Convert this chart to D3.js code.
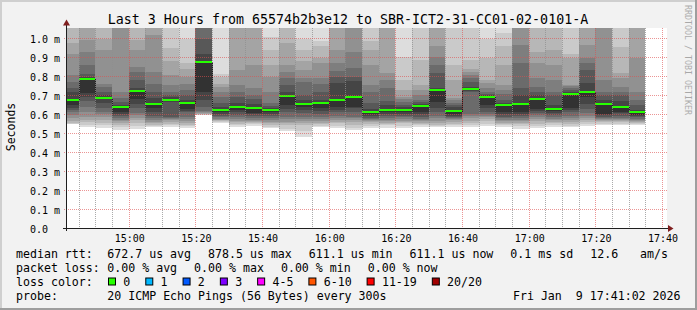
<!DOCTYPE html>
<html>
<head>
<meta charset="utf-8">
<script src="https://cdn.jsdelivr.net/npm/d3@7"></script>
<style>
  body { margin: 0; background: #fff; }
  text { font-family: "DejaVu Sans Mono", monospace; fill: #000; white-space: pre; }
</style>
</head>
<body>
<div id="chart"></div>
<script>
var width = 697;
var height = 310;

var titleText = "Last 3 Hours from 65574b2b3e12 to SBR-ICT2-31-CC01-02-0101-A";
var graphStart = new Date(2026, 0, 9, 14, 41, 2);
var graphEnd = new Date(2026, 0, 9, 17, 41, 2);
var firstStep = new Date(2026, 0, 9, 14, 40, 0);
var stepMinutes = 5;

// median rtt per 5 min step (ms)
var medianRtt = [0.676, 0.789, 0.688, 0.637, 0.724, 0.657, 0.676, 0.662, 0.8785, 0.625,
  0.641, 0.636, 0.625, 0.699, 0.657, 0.662, 0.678, 0.694, 0.614, 0.625,
  0.625, 0.646, 0.729, 0.618, 0.736, 0.694, 0.650, 0.657, 0.683, 0.629,
  0.710, 0.718, 0.657, 0.641, 0.6111];

// 20 sorted pings per step (us)
var pingsUs = [
  [549, 552, 555, 565, 580, 597, 611, 625, 635, 650, 676, 720, 740, 770, 810, 920, 975, 1080, 1150, 1250],
  [535, 544, 558, 570, 588, 614, 641, 671, 694, 711, 789, 800, 812, 860, 930, 993, 1080, 1120, 1200, 1300],
  [526, 544, 555, 570, 588, 600, 611, 632, 658, 685, 688, 702, 720, 746, 760, 940, 1000, 1080, 1150, 1300],
  [518, 532, 545, 555, 565, 572, 580, 590, 600, 611, 637, 650, 667, 685, 720, 1070, 1100, 1150, 1200, 1300],
  [525, 540, 555, 570, 580, 595, 610, 632, 655, 680, 724, 738, 782, 826, 852, 940, 993, 1080, 1150, 1250],
  [535, 540, 546, 553, 562, 570, 580, 590, 615, 632, 657, 685, 720, 760, 826, 1020, 1080, 1120, 1200, 1300],
  [535, 545, 552, 560, 568, 575, 580, 588, 668, 672, 676, 690, 700, 720, 756, 810, 880, 950, 1100, 1200],
  [530, 540, 546, 555, 565, 575, 588, 611, 620, 630, 662, 676, 700, 730, 760, 800, 840, 870, 1000, 1100],
  [597, 598, 600, 603, 606, 612, 620, 640, 676, 720, 879, 920, 1000, 1070, 1100, 1120, 1150, 1200, 1300, 1400],
  [555, 560, 565, 568, 572, 578, 585, 592, 600, 612, 625, 640, 660, 690, 720, 745, 760, 800, 815, 1100],
  [535, 545, 550, 558, 565, 575, 585, 598, 615, 625, 641, 660, 690, 720, 756, 835, 1080, 1120, 1200, 1300],
  [540, 548, 555, 560, 565, 570, 580, 590, 600, 607, 636, 655, 680, 700, 740, 860, 1080, 1120, 1200, 1300],
  [528, 535, 545, 555, 560, 570, 580, 590, 600, 611, 625, 632, 645, 660, 720, 800, 860, 940, 1010, 1100],
  [510, 525, 544, 553, 561, 575, 588, 611, 628, 650, 699, 720, 755, 790, 826, 860, 975, 1080, 1150, 1250],
  [480, 510, 545, 555, 565, 575, 585, 606, 624, 641, 657, 676, 700, 770, 790, 835, 880, 940, 1000, 1100],
  [535, 540, 548, 555, 565, 575, 585, 600, 620, 636, 662, 676, 720, 760, 790, 870, 900, 960, 990, 1100],
  [526, 540, 553, 560, 570, 580, 594, 611, 624, 641, 678, 764, 800, 830, 870, 940, 1080, 1120, 1200, 1300],
  [518, 530, 544, 560, 570, 580, 588, 611, 632, 640, 694, 775, 800, 843, 930, 1070, 1100, 1150, 1200, 1300],
  [530, 540, 550, 558, 565, 570, 575, 580, 590, 600, 614, 630, 658, 720, 755, 860, 940, 990, 1080, 1200],
  [530, 545, 550, 557, 565, 572, 580, 590, 600, 611, 625, 650, 670, 740, 780, 817, 1070, 1100, 1150, 1250],
  [530, 540, 553, 560, 567, 575, 585, 593, 600, 611, 625, 640, 650, 665, 680, 694, 730, 782, 905, 1100],
  [535, 544, 550, 557, 563, 570, 578, 588, 600, 611, 646, 655, 665, 676, 700, 730, 755, 887, 1080, 1200],
  [535, 540, 545, 555, 565, 580, 590, 615, 635, 667, 729, 740, 817, 860, 905, 960, 1080, 1120, 1200, 1300],
  [535, 545, 552, 560, 568, 575, 580, 585, 590, 600, 618, 640, 650, 660, 675, 685, 782, 860, 1080, 1200],
  [535, 545, 555, 565, 580, 590, 600, 720, 725, 730, 736, 745, 770, 790, 810, 825, 840, 890, 1080, 1200],
  [540, 550, 565, 575, 585, 590, 600, 611, 632, 650, 694, 700, 710, 720, 740, 765, 780, 896, 1000, 1100],
  [535, 545, 550, 556, 565, 570, 580, 588, 600, 615, 650, 660, 675, 710, 730, 755, 860, 960, 1030, 1100],
  [525, 540, 550, 557, 565, 572, 580, 590, 600, 611, 657, 700, 740, 870, 965, 1070, 1100, 1150, 1200, 1300],
  [530, 540, 550, 565, 575, 585, 595, 610, 620, 630, 683, 700, 720, 745, 790, 870, 930, 1080, 1150, 1250],
  [535, 545, 555, 562, 570, 575, 588, 598, 610, 620, 629, 650, 700, 720, 780, 860, 940, 1080, 1150, 1250],
  [535, 540, 550, 560, 570, 580, 590, 611, 623, 632, 710, 720, 730, 740, 750, 755, 896, 920, 1080, 1200],
  [540, 550, 560, 570, 580, 590, 605, 630, 655, 690, 718, 764, 835, 870, 896, 967, 1070, 1120, 1200, 1300],
  [545, 550, 560, 565, 570, 575, 580, 588, 595, 600, 657, 675, 700, 720, 780, 1070, 1100, 1150, 1200, 1300],
  [545, 550, 558, 565, 570, 575, 580, 590, 605, 611, 641, 670, 700, 720, 746, 790, 820, 958, 1080, 1200],
  [545, 550, 555, 560, 565, 570, 575, 585, 590, 598, 611, 625, 650, 676, 720, 896, 1070, 1100, 1150, 1250]
];

var yTickValues = [0, 0.1, 0.2, 0.3, 0.4, 0.5, 0.6, 0.7, 0.8, 0.9, 1.0];
var yTickLabels = ["0.0  ", "0.1 m", "0.2 m", "0.3 m", "0.4 m", "0.5 m", "0.6 m", "0.7 m", "0.8 m", "0.9 m", "1.0 m"];
var xTickLabels = ["15:00", "15:20", "15:40", "16:00", "16:20", "16:40", "17:00", "17:20", "17:40"];

var rttStats = ["672.7 us avg", "878.5 us max", "611.1 us min", "611.1 us now", "0.1 ms sd"];
var amsStat = ["12.6", "am/s"];
var lossStats = ["0.00 % avg", "0.00 % max", "0.00 % min", "0.00 % now"];
var lossLabels = ["0", "1", "2", "3", "4-5", "6-10", "11-19", "20/20"];
var lossColors = ["#26ff00", "#00b8ff", "#0059ff", "#7e00ff", "#ff00ff", "#ff5500", "#ff0000", "#a10000"];
var probeText = "20 ICMP Echo Pings (56 Bytes) every 300s";
var dateText = "Fri Jan  9 17:41:02 2026";


var svg = d3.select("#chart")
  .append("svg")
  .attr("width", width)
  .attr("height", height);

/* background and 3d frame */
svg.append("rect").attr("width", width).attr("height", height).attr("fill", "#f2f2f2");
svg.append("rect").attr("x", 0).attr("y", 0).attr("width", width).attr("height", 2).attr("fill", "#cfcfcf");
svg.append("rect").attr("x", 0).attr("y", 0).attr("width", 2).attr("height", height).attr("fill", "#cfcfcf");
svg.append("rect").attr("x", 0).attr("y", height - 2).attr("width", width).attr("height", 2).attr("fill", "#9e9e9e");
svg.append("rect").attr("x", width - 2).attr("y", 0).attr("width", 2).attr("height", height).attr("fill", "#9e9e9e");

var x = d3.scaleTime().domain([graphStart, graphEnd]).range([66, 666]);
var y = d3.scaleLinear().domain([0, 1.0565]).range([228, 28]);
// rrdtool snaps to the pixel on the left / above
function px(t) { return Math.floor(x(t)); }
function py(v) { return Math.floor(y(v)); }

svg.append("rect")
  .attr("x", 66).attr("y", 28)
  .attr("width", 601).attr("height", 200)
  .attr("fill", "#ffffff");

svg.append("clipPath").attr("id", "plotClip")
  .append("rect").attr("x", 66).attr("y", 28).attr("width", 601).attr("height", 200);

var plot = svg.append("g").attr("clip-path", "url(#plotClip)");

/* build steps */
var steps = medianRtt.map(function (m, i) {
  var t0 = d3.timeMinute.offset(firstStep, i * stepMinutes);
  var t1 = d3.timeMinute.offset(firstStep, (i + 1) * stepMinutes);
  return {
    t0: t0,
    t1: t1,
    x0: Math.max(66, px(t0)),
    x1: px(t1),
    median: m,
    pings: pingsUs[i].map(function (p) { return p / 1000; })
  };
});

/* smoke: band ii spans ping ii .. ping (21-ii), inner bands darker */
var half = 10;
d3.range(1, half + 1).forEach(function (ii) {
  var c = Math.floor(190 / half * (half - ii)) + 50;
  var col = d3.rgb(c, c, c).formatHex();
  plot.append("g")
    .selectAll("rect")
    .data(steps)
    .enter()
    .append("rect")
    .attr("x", function (d) { return d.x0; })
    .attr("width", function (d) { return d.x1 - d.x0; })
    .attr("y", function (d) { return Math.round(y(d.pings[20 - ii])); })
    .attr("height", function (d) { return Math.round(y(d.pings[ii - 1])) - Math.round(y(d.pings[20 - ii])); })
    .attr("fill", col)
    .attr("shape-rendering", "crispEdges");
});

/* median step line */
var stepPoints = steps.map(function (d) { return { px: d.x0, v: d.median }; });
stepPoints.push({ px: steps[steps.length - 1].x1, v: steps[steps.length - 1].median });

plot.append("path")
  .datum(stepPoints)
  .attr("d", d3.line()
    .x(function (d) { return d.px + 0.5; })
    .y(function (d) { return Math.round(y(d.v)) + 0.5; })
    .curve(d3.curveStepAfter))
  .attr("fill", "none")
  .attr("stroke", "#202020")
  .attr("stroke-width", 1)
  .attr("shape-rendering", "crispEdges");

plot.append("g")
  .selectAll("line")
  .data(steps)
  .enter()
  .append("line")
  .attr("x1", function (d) { return d.x0; })
  .attr("x2", function (d) { return d.x1; })
  .attr("y1", function (d) { return Math.round(y(d.median)); })
  .attr("y2", function (d) { return Math.round(y(d.median)); })
  .attr("stroke", lossColors[0])
  .attr("stroke-width", 2);

/* grid on top, dotted */
var gridTimes = d3.timeMinute.every(5).range(graphStart, graphEnd);

function vDots(gx) {
  var d = "";
  for (var yy = 28; yy < 228; yy += 2) d += "M" + gx + "," + yy + "h1v1h-1z";
  return d;
}
function hDots(gy) {
  var d = "";
  for (var xx = 64; xx < 668; xx += 2) d += "M" + xx + "," + gy + "h1v1h-1z";
  return d;
}

var gridG = svg.append("g").attr("shape-rendering", "crispEdges");

gridG.selectAll("path.minor")
  .data(gridTimes.filter(function (t) { return t.getMinutes() % 20 !== 0; }))
  .enter()
  .append("path")
  .attr("class", "minor")
  .attr("d", function (t) { return vDots(px(t)); })
  .attr("fill", "rgba(143,143,143,0.75)");

gridG.selectAll("path.major")
  .data(gridTimes.filter(function (t) { return t.getMinutes() % 20 === 0; }))
  .enter()
  .append("path")
  .attr("class", "major")
  .attr("d", function (t) { return vDots(px(t)); })
  .attr("fill", "rgba(222,79,79,0.6)");

gridG.selectAll("path.hgrid")
  .data(yTickValues.filter(function (v) { return v > 0; }))
  .enter()
  .append("path")
  .attr("class", "hgrid")
  .attr("d", function (v) { return hDots(py(v)); })
  .attr("fill", "rgba(222,79,79,0.6)");

/* axes */
svg.append("line").attr("x1", 63).attr("x2", 668).attr("y1", 228.5).attr("y2", 228.5)
  .attr("stroke", "#1f1f1f");
svg.append("path").attr("d", "M668,225L673.5,228.5L668,232Z").attr("fill", "#801f1f");
svg.append("line").attr("x1", 66.5).attr("x2", 66.5).attr("y1", 231).attr("y2", 25)
  .attr("stroke", "#1f1f1f");
svg.append("path").attr("d", "M63,25.5L66.5,19.5L70,25.5Z").attr("fill", "#801f1f");

var parseHM = d3.timeParse("%Y-%m-%d %H:%M");
var xTickDates = xTickLabels.map(function (s) { return parseHM("2026-01-09 " + s); });

var xAxis = svg.append("g")
  .attr("transform", "translate(0,228)")
  .call(d3.axisBottom(x)
    .tickValues(xTickDates)
    .tickFormat(function (d, i) { return xTickLabels[i]; })
    .tickSize(0)
    .tickPadding(6.4));
xAxis.select(".domain").remove();
xAxis.selectAll(".tick line").remove();
xAxis.selectAll("text")
  .style("font-family", "'DejaVu Sans Mono', monospace")
  .style("font-size", "10px")
  .attr("fill", "#000");

var yAxis = svg.append("g")
  .attr("transform", "translate(66,0)")
  .call(d3.axisLeft(y)
    .tickValues(yTickValues)
    .tickFormat(function (d, i) { return yTickLabels[i]; })
    .tickSize(0)
    .tickPadding(6));
yAxis.select(".domain").remove();
yAxis.selectAll(".tick line").remove();
yAxis.selectAll("text")
  .attr("dy", "0.4em")
  .style("font-family", "'DejaVu Sans Mono', monospace")
  .style("font-size", "10px")
  .style("white-space", "pre")
  .attr("fill", "#000");

/* titles */
svg.append("text")
  .attr("x", 348)
  .attr("y", 23.5)
  .attr("text-anchor", "middle")
  .style("font-size", "13.3px")
  .text(titleText);

svg.append("text")
  .attr("transform", "translate(15,127) rotate(-90)")
  .attr("text-anchor", "middle")
  .style("font-size", "11.5px")
  .text("Seconds");

svg.append("text")
  .attr("transform", "translate(684.5,5) rotate(90)")
  .style("font-size", "8.3px")
  .style("fill", "#000")
  .style("opacity", 0.3)
  .text("RRDTOOL / TOBI OETIKER");

/* legend */
var legendFont = "11.6px";
var gap = 17;

function legendRow(label, items, yBase) {
  svg.append("text").attr("x", 16).attr("y", yBase).style("font-size", legendFont).text(label);
  var xPos = 107.3;
  items.forEach(function (s) {
    var t = svg.append("text").attr("x", xPos).attr("y", yBase).style("font-size", legendFont).text(s);
    xPos += t.node().getComputedTextLength() + gap;
  });
  return xPos;
}

var afterRtt = legendRow("median rtt:", rttStats, 257.5);
var ams = svg.append("text").attr("x", afterRtt).attr("y", 257.5).style("font-size", legendFont).text(amsStat[0]);
svg.append("text")
  .attr("x", afterRtt + ams.node().getComputedTextLength() + 22)
  .attr("y", 257.5).style("font-size", legendFont).text(amsStat[1]);

legendRow("packet loss:", lossStats, 271.5);

svg.append("text").attr("x", 16).attr("y", 285.5).style("font-size", legendFont).text("loss color:");
var boxX = 108.5;
lossLabels.forEach(function (lbl, i) {
  svg.append("rect")
    .attr("x", boxX).attr("y", 278)
    .attr("width", 7).attr("height", 7)
    .attr("fill", lossColors[i])
    .attr("stroke", "#000")
    .attr("stroke-width", 1);
  var t = svg.append("text").attr("x", boxX + 14.8).attr("y", 285.5).style("font-size", legendFont).text(lbl);
  boxX = boxX + 14.8 + t.node().getComputedTextLength() + 15.5;
});

legendRow("probe:", [probeText], 299.5);
svg.append("text")
  .attr("x", 680.5)
  .attr("y", 299.5)
  .attr("text-anchor", "end")
  .style("font-size", legendFont)
  .text(dateText);
</script>
</body>
</html>
